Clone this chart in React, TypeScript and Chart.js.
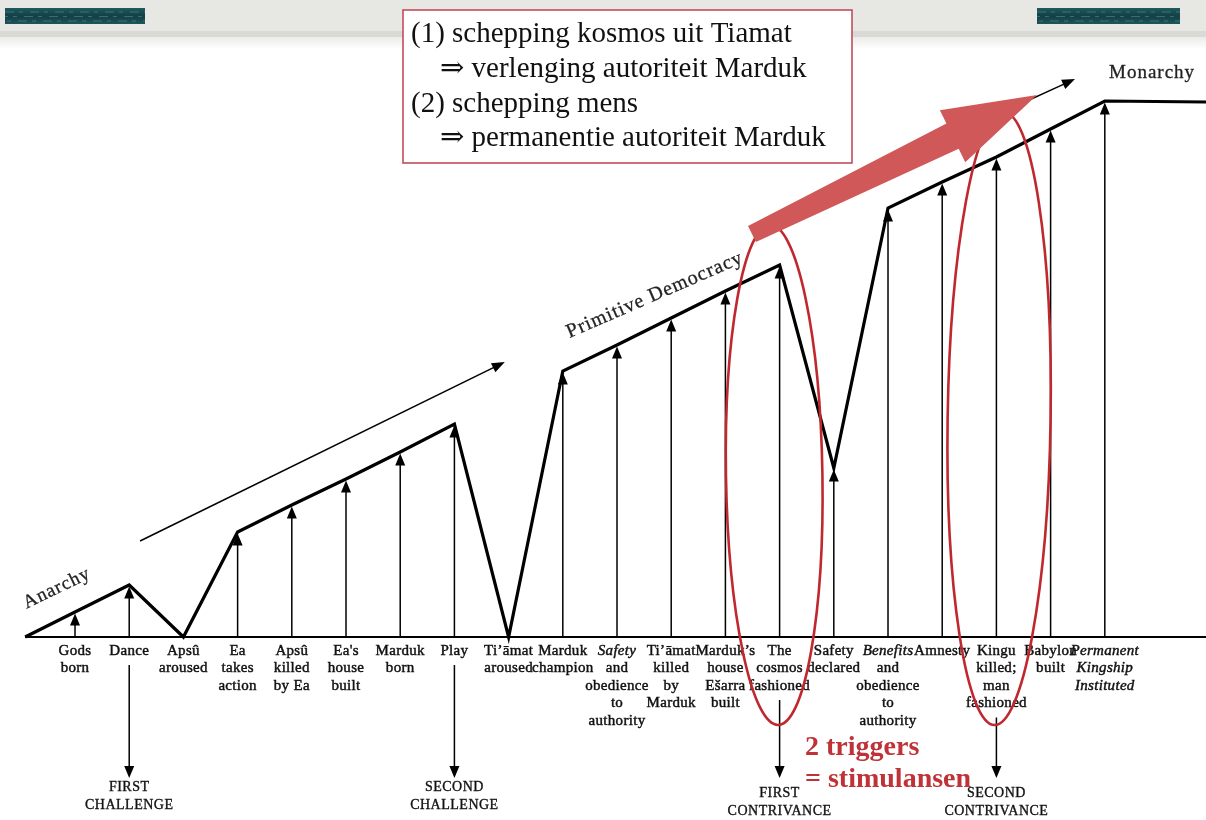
import React, { useEffect, useRef } from 'react';
import { Chart, registerables } from 'chart.js';

Chart.register(...registerables);

// ---------- data ----------
const categoryLabels: string[][] = [
  ['Gods', 'born'],
  ['Dance'],
  ['Apsû', 'aroused'],
  ['Ea', 'takes', 'action'],
  ['Apsû', 'killed', 'by Ea'],
  ["Ea's", 'house', 'built'],
  ['Marduk', 'born'],
  ['Play'],
  ['Ti’āmat', 'aroused'],
  ['Marduk', 'champion'],
  ['Safety', 'and', 'obedience', 'to', 'authority'],
  ['Ti’āmat', 'killed', 'by', 'Marduk'],
  ['Marduk’s', 'house', 'Ešarra', 'built'],
  ['The', 'cosmos', 'fashioned'],
  ['Safety', 'declared'],
  ['Benefits', 'and', 'obedience', 'to', 'authority'],
  ['Amnesty'],
  ['Kingu', 'killed;', 'man', 'fashioned'],
  ['Babylon', 'built'],
  ['Permanent', 'Kingship', 'Instituted'],
];
const italicLines: number[][] = [
  [], [], [], [], [], [], [], [], [], [],
  [0], [], [], [], [], [0], [], [], [], [0, 1, 2],
];
// height of the authority line above the base line at each event
const authorityLevels: number[] = [
  25, 52, 0, 105, 132, 158, 185, 213, 0, 266,
  292, 319, 346, 372, 169, 429, 455, 480, 508, 536,
];
const startIndex = -0.92;
const startLevel = 0;
const endLevel = 535;

const milestoneIndex: number[] = [1, 7, 13, 17];
const milestoneLabels: string[][] = [
  ['FIRST', 'CHALLENGE'],
  ['SECOND', 'CHALLENGE'],
  ['FIRST', 'CONTRIVANCE'],
  ['SECOND', 'CONTRIVANCE'],
];
const phaseLabels: string[] = ['Anarchy', 'Primitive Democracy', 'Monarchy'];
const boxLines: string[] = [
  '(1) schepping kosmos uit Tiamat',
  '⇒ verlenging autoriteit Marduk',
  '(2) schepping mens',
  '⇒ permanentie autoriteit Marduk',
];
const triggerLines: string[] = ['2 triggers', '= stimulansen'];

// scale ranges
const X_MIN = -1.384;
const X_MAX = 20.867;
const Y_MIN = -183;
const Y_MAX = 637;

const SERIF = "'Liberation Serif', 'DejaVu Serif', serif";

function head(ctx: CanvasRenderingContext2D, tx: number, ty: number, ang: number, len: number, hw: number) {
  const c = Math.cos(ang), s = Math.sin(ang);
  const bx = tx - len * c, by = ty - len * s;
  ctx.beginPath();
  ctx.moveTo(tx, ty);
  ctx.lineTo(bx - hw * s, by + hw * c);
  ctx.lineTo(bx + hw * s, by - hw * c);
  ctx.closePath();
  ctx.fill();
}

function arrow(ctx: CanvasRenderingContext2D, x1: number, y1: number, x2: number, y2: number, lw: number, len: number, hw: number) {
  const ang = Math.atan2(y2 - y1, x2 - x1);
  ctx.lineWidth = lw;
  ctx.beginPath();
  ctx.moveTo(x1, y1);
  ctx.lineTo(x2 - Math.cos(ang) * len * 0.8, y2 - Math.sin(ang) * len * 0.8);
  ctx.stroke();
  head(ctx, x2, y2, ang, len, hw);
}

function boldText(ctx: CanvasRenderingContext2D, t: string, x: number, y: number, w: number) {
  ctx.lineWidth = w;
  ctx.strokeText(t, x, y);
  ctx.fillText(t, x, y);
}

const decor = {
  id: 'decor',
  beforeDraw(chart: any) {
    const ctx: CanvasRenderingContext2D = chart.ctx;
    const W = chart.width;
    ctx.save();
    ctx.fillStyle = '#ffffff';
    ctx.fillRect(0, 0, W, chart.height);
    // top band
    ctx.fillStyle = '#e7e7e3';
    ctx.fillRect(0, 0, W, 31);
    ctx.fillStyle = '#d9d9d5';
    ctx.fillRect(0, 31, W, 6);
    const g = ctx.createLinearGradient(0, 37, 0, 49);
    g.addColorStop(0, '#ebebe8');
    g.addColorStop(1, '#ffffff');
    ctx.fillStyle = g;
    ctx.fillRect(0, 37, W, 12);
    // teal blocks
    const blocks = [[5, 8, 140, 16], [1037, 8, 143, 16]];
    for (const [bx, by, bw, bh] of blocks) {
      const tg = ctx.createLinearGradient(0, by, 0, by + bh);
      tg.addColorStop(0, '#1e5a60');
      tg.addColorStop(0.5, '#143f45');
      tg.addColorStop(1, '#1d555b');
      ctx.fillStyle = tg;
      ctx.fillRect(bx, by, bw, bh);
      ctx.strokeStyle = 'rgba(90,170,170,0.45)';
      ctx.lineWidth = 1;
      ctx.setLineDash([9, 5, 4, 7]);
      for (let k = 0; k < 3; k++) {
        ctx.lineDashOffset = k * 6;
        ctx.beginPath();
        ctx.moveTo(bx, by + 4 + k * 4.5);
        ctx.lineTo(bx + bw, by + 4 + k * 4.5);
        ctx.stroke();
      }
      ctx.setLineDash([]);
    }
    ctx.restore();
  },
  afterDatasetsDraw(chart: any) {
    const ctx: CanvasRenderingContext2D = chart.ctx;
    const xs = chart.scales.x;
    const ys = chart.scales.y;
    const X = (v: number) => xs.getPixelForValue(v);
    const Y = (v: number) => ys.getPixelForValue(v);
    const base = Y(0);
    ctx.save();
    ctx.fillStyle = '#000';
    ctx.strokeStyle = '#000';

    // vertical arrows up to authority line
    authorityLevels.forEach((lv, i) => {
      if (lv <= 0) return;
      const x = X(i);
      const tip = Y(lv) + 1.5;
      ctx.lineWidth = 1.5;
      ctx.beginPath();
      ctx.moveTo(x, base);
      ctx.lineTo(x, tip + 8);
      ctx.stroke();
      head(ctx, x, tip, -Math.PI / 2, 12, 5);
    });

    // category labels
    ctx.textAlign = 'center';
    ctx.textBaseline = 'middle';
    (ctx as any).letterSpacing = '0.3px';
    ctx.fillStyle = '#111';
    ctx.strokeStyle = '#111';
    categoryLabels.forEach((lines, i) => {
      const x = X(i);
      lines.forEach((t, j) => {
        const it = italicLines[i].includes(j);
        ctx.font = `${it ? 'italic ' : ''}15px ${SERIF}`;
        boldText(ctx, t, x, base + 14 + j * 17.5, 0.45);
      });
    });

    // milestone down arrows
    milestoneIndex.forEach((ci, k) => {
      const x = X(ci);
      const n = categoryLabels[ci].length;
      const y0 = base + 14 + (n - 1) * 17.5 + 14;
      ctx.strokeStyle = '#000';
      ctx.fillStyle = '#000';
      ctx.lineWidth = 1.5;
      ctx.beginPath();
      ctx.moveTo(x, y0);
      ctx.lineTo(x, 768);
      ctx.stroke();
      head(ctx, x, 778, Math.PI / 2, 12, 5);
      ctx.font = `14px ${SERIF}`;
      (ctx as any).letterSpacing = '0.5px';
      ctx.fillStyle = '#111';
      ctx.strokeStyle = '#111';
      const ly = k < 2 ? 787 : 793;
      milestoneLabels[k].forEach((t, j) => boldText(ctx, t, x, ly + j * 18, 0.35));
    });

    // thin trend arrows
    ctx.strokeStyle = '#000';
    ctx.fillStyle = '#000';
    arrow(ctx, X(1.2), Y(96), X(7.93), Y(275), 1.5, 13, 5);
    arrow(ctx, X(17.0), Y(522), X(18.45), Y(558), 1.5, 13, 5);

    // phase labels
    ctx.fillStyle = '#222';
    ctx.strokeStyle = '#222';
    ctx.font = `19px ${SERIF}`;
    (ctx as any).letterSpacing = '1px';
    ctx.textBaseline = 'alphabetic';
    ctx.save();
    ctx.translate(59, 593);
    ctx.rotate(-0.45);
    boldText(ctx, phaseLabels[0], 0, 0, 0.3);
    ctx.restore();
    ctx.save();
    ctx.font = `20px ${SERIF}`;
    ctx.translate(657, 300);
    ctx.rotate(-0.41);
    boldText(ctx, phaseLabels[1], 0, 0, 0.3);
    ctx.restore();
    ctx.textAlign = 'left';
    boldText(ctx, phaseLabels[2], 1109, 78, 0.3);
    (ctx as any).letterSpacing = '0px';

    // text box
    ctx.fillStyle = '#ffffff';
    ctx.fillRect(403, 10, 449, 153);
    ctx.strokeStyle = '#c24d5c';
    ctx.lineWidth = 1.6;
    ctx.strokeRect(403, 10, 449, 153);
    ctx.fillStyle = '#111';
    ctx.font = `29px ${SERIF}`;
    ctx.textAlign = 'left';
    const bxs = [411, 440, 411, 440];
    const bys = [42, 77, 112, 146];
    boxLines.forEach((t, i) => ctx.fillText(t, bxs[i], bys[i]));

    // red ellipses around the two triggers
    ctx.strokeStyle = '#c0282f';
    ctx.lineWidth = 2.6;
    const ells = [
      { c: 12.9, top: 412, bot: -88, rx: 0.89, rot: -0.016 },
      { c: 17.05, top: 525, bot: -88, rx: 0.95, rot: 0.015 },
    ];
    ells.forEach((e) => {
      const cy = (Y(e.top) + Y(e.bot)) / 2;
      const ry = (Y(e.bot) - Y(e.top)) / 2;
      const rx = X(e.c + e.rx) - X(e.c);
      ctx.beginPath();
      ctx.ellipse(X(e.c), cy, rx, ry, e.rot, 0, Math.PI * 2);
      ctx.stroke();
    });

    // big red arrow
    const tx = X(12.49), ty = Y(403);
    const px = X(17.75), py = Y(542);
    const L = Math.hypot(px - tx, py - ty);
    const ux = (px - tx) / L, uy = (py - ty) / L;
    const nx = -uy, ny = ux;
    const bxp = px - ux * 94, byp = py - uy * 94;
    ctx.fillStyle = '#d05858';
    ctx.beginPath();
    ctx.moveTo(tx + nx * 9, ty + ny * 9);
    ctx.lineTo(bxp + nx * 14, byp + ny * 14);
    ctx.lineTo(bxp + nx * 29, byp + ny * 29);
    ctx.lineTo(px, py);
    ctx.lineTo(bxp - nx * 29, byp - ny * 29);
    ctx.lineTo(bxp - nx * 14, byp - ny * 14);
    ctx.lineTo(tx - nx * 9, ty - ny * 9);
    ctx.closePath();
    ctx.fill();

    // red trigger text
    ctx.fillStyle = '#bf3237';
    ctx.font = `bold 28px ${SERIF}`;
    ctx.textAlign = 'left';
    ctx.fillText(triggerLines[0], 805, 755);
    ctx.fillText(triggerLines[1], 805, 787);

    ctx.restore();
  },
};

export default function App() {
  const ref = useRef<HTMLCanvasElement | null>(null);
  useEffect(() => {
    document.body.style.margin = '0';
    document.body.style.overflow = 'hidden';
    const canvas = ref.current;
    if (!canvas) return;
    const linePoints = [
      { x: startIndex, y: startLevel },
      ...authorityLevels.map((v, i) => ({ x: i, y: v })),
      { x: X_MAX, y: endLevel },
    ];
    const basePoints = [
      { x: startIndex, y: 0 },
      { x: X_MAX, y: 0 },
    ];
    const chart = new Chart(canvas, {
      type: 'line',
      data: {
        datasets: [
          {
            data: basePoints,
            borderColor: '#000',
            borderWidth: 2,
            pointRadius: 0,
            tension: 0,
          },
          {
            data: linePoints,
            borderColor: '#000',
            borderWidth: 3.2,
            pointRadius: 0,
            tension: 0,
            borderJoinStyle: 'miter',
          },
        ],
      },
      options: {
        responsive: false,
        animation: false,
        layout: { padding: 0, autoPadding: false },
        scales: {
          x: { type: 'linear', min: X_MIN, max: X_MAX, display: false },
          y: { min: Y_MIN, max: Y_MAX, display: false },
        },
        plugins: { legend: { display: false }, tooltip: { enabled: false } },
        events: [],
      },
      plugins: [decor],
    } as any);
    return () => chart.destroy();
  }, []);
  return <canvas ref={ref} width={1206} height={820} style={{ display: 'block' }} />;
}
